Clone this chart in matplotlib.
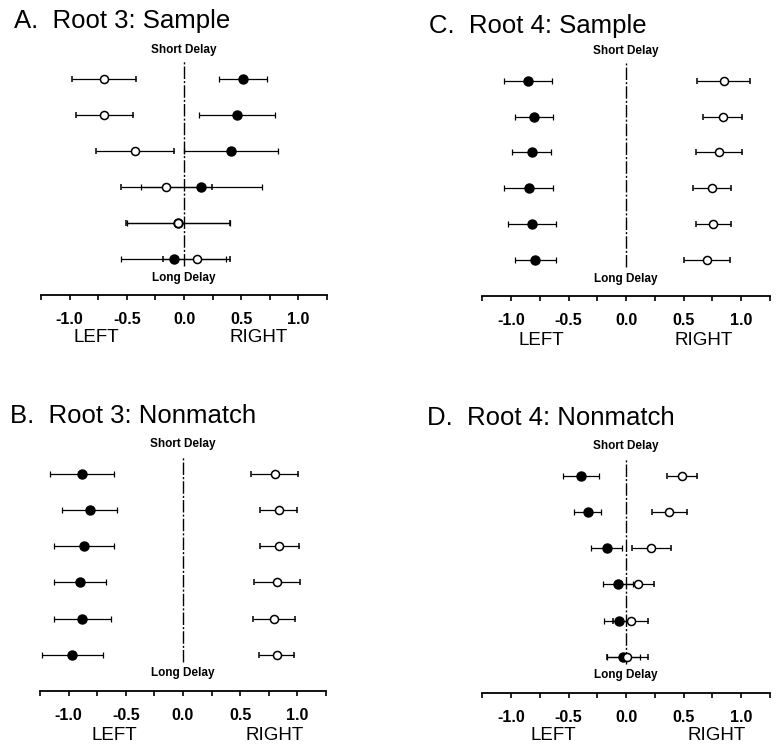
import numpy as np
import matplotlib.pyplot as plt

plt.rcParams['font.family'] = ['Liberation Sans', 'DejaVu Sans']

# rows, top (short delay) to bottom (long delay)
rows = [6, 5, 4, 3, 2, 1]

# A. Root 3: Sample
a_filled = [0.515, 0.465, 0.41, 0.15, -0.05, -0.09]
a_filled_err = [0.21, 0.33, 0.41, 0.53, 0.45, 0.46]
a_open = [-0.70, -0.695, -0.43, -0.155, -0.05, 0.11]
a_open_err = [0.28, 0.25, 0.34, 0.40, 0.455, 0.29]

# B. Root 3: Nonmatch
b_filled = [-0.884, -0.816, -0.865, -0.90, -0.88, -0.969]
b_filled_err = [0.279, 0.24, 0.263, 0.224, 0.251, 0.267]
b_open = [0.80, 0.835, 0.84, 0.82, 0.796, 0.818]
b_open_err = [0.207, 0.16, 0.17, 0.20, 0.18, 0.15]

# C. Root 4: Sample
c_filled = [-0.855, -0.80, -0.82, -0.846, -0.818, -0.79]
c_filled_err = [0.21, 0.163, 0.171, 0.212, 0.205, 0.178]
c_open = [0.85, 0.839, 0.804, 0.746, 0.758, 0.70]
c_open_err = [0.23, 0.17, 0.20, 0.168, 0.15, 0.20]

# D. Root 4: Nonmatch
d_filled = [-0.39, -0.335, -0.17, -0.07, -0.064, -0.025]
d_filled_err = [0.156, 0.114, 0.134, 0.13, 0.128, 0.145]
d_open = [0.489, 0.376, 0.22, 0.105, 0.038, 0.01]
d_open_err = [0.13, 0.152, 0.166, 0.137, 0.154, 0.18]

major = [-1.0, -0.5, 0.0, 0.5, 1.0]
major_labels = ['-1.0', '-0.5', '0.0', '0.5', '1.0']
minor = [-1.25, -0.75, -0.25, 0.25, 0.75, 1.25]

W, H = 777, 748
fig = plt.figure(figsize=(W / 100, H / 100), dpi=100)


def panel(rect, title, title_xy, filled, filled_err, opn, opn_err, lr_x, lr_y):
    ax = fig.add_axes([rect[0] / W, 1 - rect[3] / H, (rect[1] - rect[0]) / W, (rect[3] - rect[2]) / H])
    ax.set_xlim(-1.25, 1.25)
    ax.set_ylim(0, 7)
    for s in ['left', 'right', 'top']:
        ax.spines[s].set_visible(False)
    ax.spines['bottom'].set_linewidth(1.3)
    ax.set_yticks([])
    ax.set_xticks(major)
    ax.set_xticklabels(major_labels, fontsize=11.5, fontweight='bold')
    ax.set_xticks(minor, minor=True)
    ax.tick_params(axis='x', which='both', direction='out', length=3.6, width=1.2, pad=9)

    ax.plot([0, 0], [0.8, 6.5], color='black', lw=1.0, ls=(0, (9, 1.5, 1.5, 1.5)))

    ax.errorbar(filled, rows, xerr=filled_err, fmt='o', color='black', ms=6.5,
                mfc='black', mec='black', elinewidth=0.9, capsize=2.2, capthick=0.9, zorder=3)
    ax.errorbar(opn, rows, xerr=opn_err, fmt='o', color='black', ms=5.8,
                mfc='white', mec='black', mew=1.1, elinewidth=0.9, capsize=2.2, capthick=0.9, zorder=4)

    ax.text(0, 6.83, 'Short Delay', ha='center', va='center', fontsize=8.5, fontweight='bold')
    ax.text(0, 0.48, 'Long Delay', ha='center', va='center', fontsize=8.5, fontweight='bold')

    ax.text(lr_x[0], lr_y, 'LEFT', ha='center', va='center', fontsize=13.5,
            transform=ax.get_xaxis_transform())
    ax.text(lr_x[1], lr_y, 'RIGHT', ha='center', va='center', fontsize=13.5,
            transform=ax.get_xaxis_transform())

    fig.text(title_xy[0] / W, 1 - title_xy[1] / H, title, ha='left', va='baseline', fontsize=18.5)
    return ax


# rect in pixels: left, right, top, bottom
panel((41, 327, 43.4, 295), 'A.  Root 3: Sample', (14, 28.3),
      a_filled, a_filled_err, a_open, a_open_err, (-0.77, 0.65), -0.17)
panel((482.3, 770, 45, 295.7), 'C.  Root 4: Sample', (429, 32.8),
      c_filled, c_filled_err, c_open, c_open_err, (-0.735, 0.677), -0.18)
panel((40, 326, 438, 690.7), 'B.  Root 3: Nonmatch', (10, 423.3),
      b_filled, b_filled_err, b_open, b_open_err, (-0.60, 0.805), -0.178)
panel((482.3, 770, 440, 692.7), 'D.  Root 4: Nonmatch', (426.7, 425),
      d_filled, d_filled_err, d_open, d_open_err, (-0.63, 0.785), -0.168)

plt.savefig('out.png', dpi=100)
